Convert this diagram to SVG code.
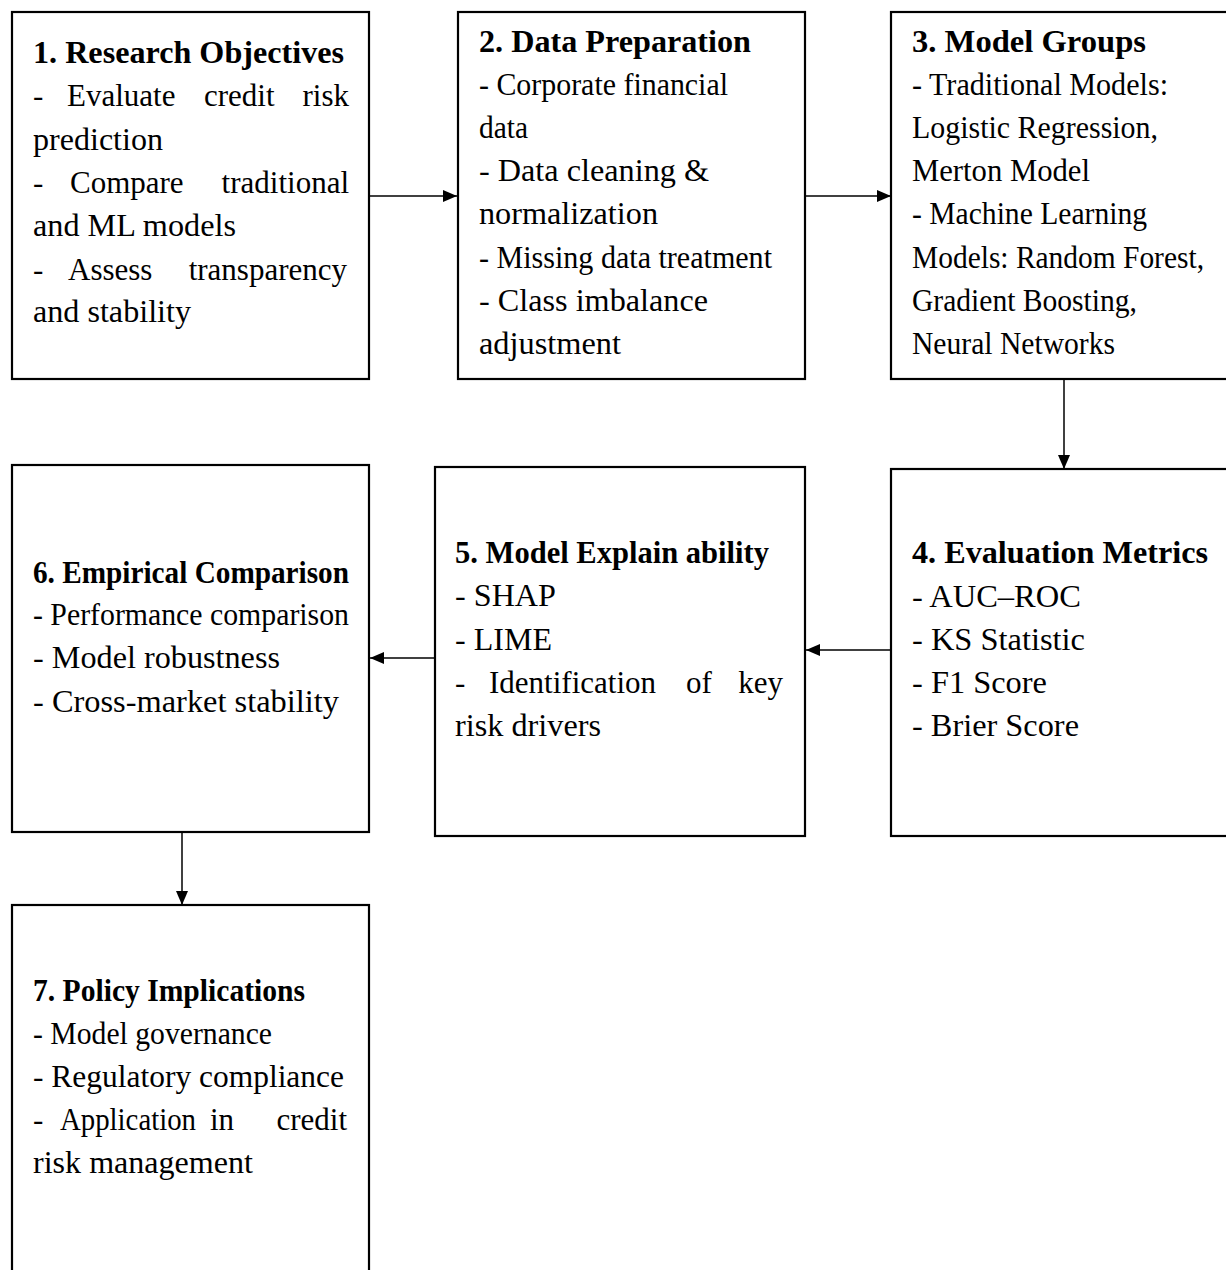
<svg xmlns="http://www.w3.org/2000/svg" width="1226" height="1270" viewBox="0 0 1226 1270">
<style>
.box{fill:#fff;stroke:#000;stroke-width:2.2}
.t{font-family:"Liberation Serif","Times New Roman",serif;font-size:31px;fill:#000}
.b{font-weight:bold}
.e{text-anchor:end}
.c{stroke:#000;stroke-width:1.5;fill:none}
</style>
<defs>
<marker id="ah" viewBox="0 0 14 12" refX="14" refY="6" markerWidth="14" markerHeight="12" markerUnits="userSpaceOnUse" orient="auto">
<path d="M0,0 L14,6 L0,12 Z" fill="#000"/>
</marker>
</defs>
<rect width="1226" height="1270" fill="#fff"/>
<g id="connectors">
<line class="c" x1="370" y1="196" x2="457" y2="196" marker-end="url(#ah)"/>
<line class="c" x1="806" y1="196" x2="891" y2="196" marker-end="url(#ah)"/>
<line class="c" x1="1064" y1="380" x2="1064" y2="469" marker-end="url(#ah)"/>
<line class="c" x1="891" y1="650" x2="806" y2="650" marker-end="url(#ah)"/>
<line class="c" x1="458" y1="658" x2="370" y2="658" marker-end="url(#ah)"/>
<line class="c" x1="182" y1="833" x2="182" y2="905" marker-end="url(#ah)"/>
</g>
<g id="node1">
<rect class="box" x="12" y="12" width="357" height="367"/>
<text class="t b" x="33" y="63" textLength="311" lengthAdjust="spacingAndGlyphs">1. Research Objectives</text>
<text class="t" y="106"><tspan x="33">-</tspan><tspan x="67">Evaluate</tspan><tspan x="204">credit</tspan></text>
<text class="t e" x="349" y="106">risk</text>
<text class="t" x="33" y="150" textLength="130" lengthAdjust="spacingAndGlyphs">prediction</text>
<text class="t" y="193"><tspan x="33">-</tspan><tspan x="70">Compare</tspan></text>
<text class="t e" x="349" y="193">traditional</text>
<text class="t" x="33" y="236" textLength="203" lengthAdjust="spacingAndGlyphs">and ML models</text>
<text class="t" y="280"><tspan x="33">-</tspan><tspan x="68">Assess</tspan></text>
<text class="t e" x="347" y="280">transparency</text>
<text class="t" x="33" y="322" textLength="158" lengthAdjust="spacingAndGlyphs">and stability</text>
</g>
<g id="node2">
<rect class="box" x="458" y="12" width="347" height="367"/>
<text class="t b" x="479" y="52" textLength="272" lengthAdjust="spacingAndGlyphs">2. Data Preparation</text>
<text class="t" x="479" y="95" textLength="249" lengthAdjust="spacingAndGlyphs">- Corporate financial</text>
<text class="t" x="479" y="138" textLength="49" lengthAdjust="spacingAndGlyphs">data</text>
<text class="t" x="479" y="181" textLength="230" lengthAdjust="spacingAndGlyphs">- Data cleaning &amp;</text>
<text class="t" x="479" y="224" textLength="179" lengthAdjust="spacingAndGlyphs">normalization</text>
<text class="t" x="479" y="268" textLength="293" lengthAdjust="spacingAndGlyphs">- Missing data treatment</text>
<text class="t" x="479" y="311" textLength="229" lengthAdjust="spacingAndGlyphs">- Class imbalance</text>
<text class="t" x="479" y="354" textLength="142" lengthAdjust="spacingAndGlyphs">adjustment</text>
</g>
<g id="node3">
<rect class="box" x="891" y="12" width="345" height="367"/>
<text class="t b" x="912" y="52" textLength="234" lengthAdjust="spacingAndGlyphs">3. Model Groups</text>
<text class="t" x="912" y="95" textLength="256" lengthAdjust="spacingAndGlyphs">- Traditional Models:</text>
<text class="t" x="912" y="138" textLength="246" lengthAdjust="spacingAndGlyphs">Logistic Regression,</text>
<text class="t" x="912" y="181" textLength="178" lengthAdjust="spacingAndGlyphs">Merton Model</text>
<text class="t" x="912" y="224" textLength="235" lengthAdjust="spacingAndGlyphs">- Machine Learning</text>
<text class="t" x="912" y="268" textLength="292" lengthAdjust="spacingAndGlyphs">Models: Random Forest,</text>
<text class="t" x="912" y="311" textLength="225" lengthAdjust="spacingAndGlyphs">Gradient Boosting,</text>
<text class="t" x="912" y="354" textLength="203" lengthAdjust="spacingAndGlyphs">Neural Networks</text>
</g>
<g id="node4">
<rect class="box" x="891" y="469" width="345" height="367"/>
<text class="t b" x="912" y="563" textLength="296" lengthAdjust="spacingAndGlyphs">4. Evaluation Metrics</text>
<text class="t" x="912" y="607" textLength="169" lengthAdjust="spacingAndGlyphs">- AUC–ROC</text>
<text class="t" x="912" y="650" textLength="173" lengthAdjust="spacingAndGlyphs">- KS Statistic</text>
<text class="t" x="912" y="693" textLength="135" lengthAdjust="spacingAndGlyphs">- F1 Score</text>
<text class="t" x="912" y="736" textLength="167" lengthAdjust="spacingAndGlyphs">- Brier Score</text>
</g>
<g id="node5">
<rect class="box" x="435" y="467" width="370" height="369"/>
<text class="t b" x="455" y="563" textLength="314" lengthAdjust="spacingAndGlyphs">5. Model Explain ability</text>
<text class="t" x="455" y="606" textLength="101" lengthAdjust="spacingAndGlyphs">- SHAP</text>
<text class="t" x="455" y="650" textLength="97" lengthAdjust="spacingAndGlyphs">- LIME</text>
<text class="t" y="693"><tspan x="455">-</tspan><tspan x="489">Identification</tspan><tspan x="686">of</tspan></text>
<text class="t e" x="783" y="693">key</text>
<text class="t" x="455" y="736" textLength="146" lengthAdjust="spacingAndGlyphs">risk drivers</text>
</g>
<g id="node6">
<rect class="box" x="12" y="465" width="357" height="367"/>
<text class="t b" x="33" y="583" textLength="316" lengthAdjust="spacingAndGlyphs">6. Empirical Comparison</text>
<text class="t" x="33" y="625" textLength="316" lengthAdjust="spacingAndGlyphs">- Performance comparison</text>
<text class="t" x="33" y="668" textLength="247" lengthAdjust="spacingAndGlyphs">- Model robustness</text>
<text class="t" x="33" y="712" textLength="306" lengthAdjust="spacingAndGlyphs">- Cross-market stability</text>
</g>
<g id="node7">
<rect class="box" x="12" y="905" width="357" height="400"/>
<text class="t b" x="33" y="1001" textLength="272" lengthAdjust="spacingAndGlyphs">7. Policy Implications</text>
<text class="t" x="33" y="1044" textLength="239" lengthAdjust="spacingAndGlyphs">- Model governance</text>
<text class="t" x="33" y="1087" textLength="311" lengthAdjust="spacingAndGlyphs">- Regulatory compliance</text>
<text class="t" x="33" y="1130">-</text>
<text class="t" x="60" y="1130" textLength="136" lengthAdjust="spacingAndGlyphs">Application</text>
<text class="t" x="210" y="1130">in</text>
<text class="t e" x="347" y="1130">credit</text>
<text class="t" x="33" y="1173" textLength="220" lengthAdjust="spacingAndGlyphs">risk management</text>
</g>
</svg>
